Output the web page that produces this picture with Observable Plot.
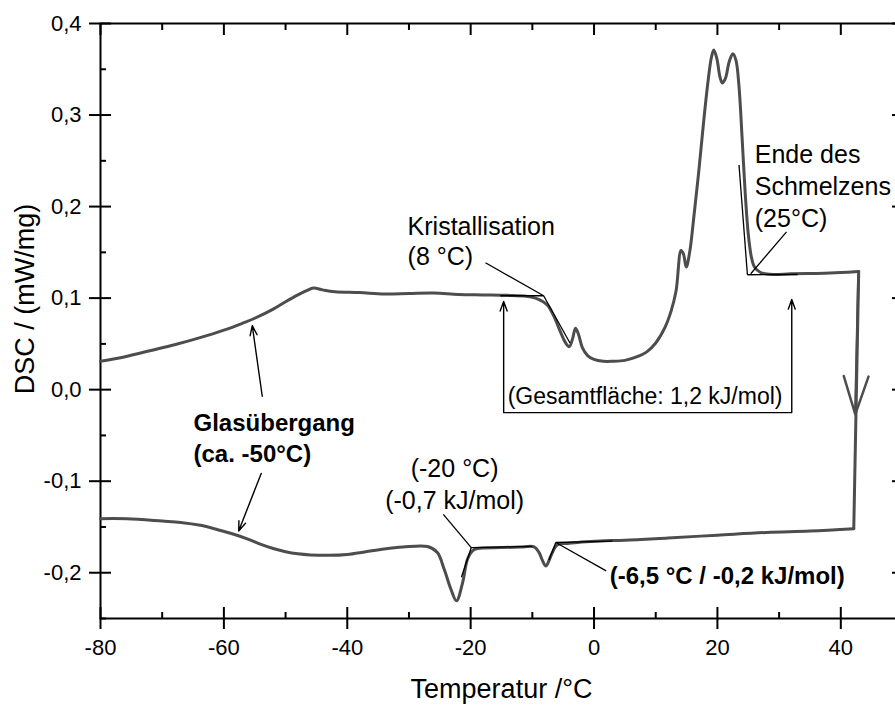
<!DOCTYPE html>
<html><head><meta charset="utf-8">
<script src="https://cdn.jsdelivr.net/npm/d3@7"></script>
<script src="https://cdn.jsdelivr.net/npm/@observablehq/plot@0.6"></script>
<style>
html,body{margin:0;padding:0;background:#fff;overflow:hidden;}
#chart{width:895px;height:706px;overflow:hidden;}
#chart svg{max-width:none !important;}
</style></head><body><div id="chart"></div>
<script>
// Heating scan (upper curve)
const heatT = [-80,-76,-72,-68,-64,-60,-57,-55,-52,-50,-48,-46.5,-45.5,-44,-42,-38,-34,-30,-26,-22,-18,-14,-11,-9.5,-8.5,-7.5,-6.5,-5.5,-4.6,-4.0,-3.5,-3.0,-2.5,-1.9,-1.0,0,1.5,3,5,7,8.5,10,11.5,12.5,13.3,14.1,14.5,14.95,15.5,16.2,17,17.8,18.5,19.0,19.4,19.9,20.4,20.8,21.3,21.9,22.5,23.0,23.5,24.0,24.5,25.0,25.5,26.0,27.0,28.5,32,36,40,42.9];
const heatDSC = [0.031,0.036,0.0425,0.049,0.0565,0.065,0.0725,0.078,0.088,0.096,0.1035,0.1085,0.111,0.109,0.107,0.106,0.1045,0.105,0.1055,0.104,0.1035,0.103,0.102,0.100,0.097,0.092,0.080,0.064,0.051,0.047,0.055,0.067,0.060,0.046,0.037,0.033,0.031,0.031,0.032,0.036,0.041,0.051,0.068,0.086,0.108,0.152,0.148,0.134,0.150,0.190,0.240,0.295,0.338,0.362,0.371,0.362,0.342,0.335,0.340,0.358,0.367,0.360,0.331,0.275,0.215,0.170,0.145,0.134,0.128,0.126,0.1265,0.127,0.128,0.129];
// Cooling scan (lower curve)
const coolT = [42.1,35,28,20,12,5,1,-2,-4.3,-5.8,-6.3,-7.0,-7.8,-8.4,-8.9,-9.7,-12,-15,-18.9,-19.7,-20.5,-21.3,-22.3,-23.2,-24.3,-25.4,-27,-31,-34,-37,-40,-43,-46,-48,-50,-52,-54,-56,-58.4,-61,-63.8,-67,-70,-75.7,-80];
const coolDSC = [-0.152,-0.1545,-0.156,-0.159,-0.162,-0.1645,-0.1653,-0.1665,-0.168,-0.169,-0.172,-0.1817,-0.1926,-0.186,-0.178,-0.1718,-0.172,-0.1725,-0.1736,-0.176,-0.185,-0.2107,-0.2307,-0.218,-0.196,-0.178,-0.1714,-0.172,-0.174,-0.177,-0.180,-0.181,-0.1805,-0.1793,-0.177,-0.1735,-0.169,-0.1635,-0.158,-0.153,-0.1482,-0.145,-0.1435,-0.141,-0.1409];

const xTicks = [-80,-60,-40,-20,0,20,40];
const xMinor = [-70,-50,-30,-10,10,30];
const yTicks = [-0.2,-0.1,0.0,0.1,0.2,0.3,0.4];
const yMinor = [-0.25,-0.15,-0.05,0.05,0.15,0.25,0.35];

// onset construction lines (data units)
const tangX1 = [-17.6,-15.2,-8.17,31.2,23.5,24.86,-14.65,-24.43,-19.9,-19.9,-6.2,-6.2,-6.2];
const tangY1 = [0.1386,0.1026,0.1026,0.1724,0.2455,0.1255,-0.025,-0.1362,-0.1725,-0.1725,-0.167,-0.167,-0.167];
const tangX2 = [-8.17,-8.17,-3.9,25.4,24.86,33,32.05,-19.9,-10,-21.5,1.97,3,-7.3];
const tangY2 = [0.1026,0.1026,0.051,0.1266,0.1255,0.1258,-0.025,-0.1725,-0.1712,-0.205,-0.198,-0.1655,-0.186];

// annotation arrows
const arrX1 = [-14.65,32.05,-53.78,-53.95];
const arrY1 = [-0.025,-0.025,-0.0072,-0.0915];
const arrX2 = [-14.65,32.05,-55.4,-57.6];
const arrY2 = [0.0964,0.0985,0.0699,-0.1544];

// annotation texts
const noteText = ["Kristallisation\n(8 °C)","Ende des\nSchmelzens\n(25°C)","(Gesamtfläche: 1,2 kJ/mol)","(-20 °C)\n(-0,7 kJ/mol)"];
const noteX = [-30.22,26.05,-14.0,-22.6];
const noteY = [0.1357,0.1782,-0.0162,-0.1307];
const noteAnchor = ["start","start","start","middle"];
const noteSize = [25,25,23,25];
const noteLH = [1.2,1.27,1,1.28];
const boldText = ["Glasübergang\n(ca. -50°C)","(-6,5 °C / -0,2 kJ/mol)"];
const boldX = [-64.92,2.54];
const boldY = [-0.0795,-0.2125];

const heat = heatT.map((t,i)=>({t, v: heatDSC[i]}));
const cool = coolT.map((t,i)=>({t, v: coolDSC[i]}));
const drop = [heat[heat.length-1], cool[0]];
const tang = tangX1.map((x,i)=>({x1:x,y1:tangY1[i],x2:tangX2[i],y2:tangY2[i]}));
const arrows = arrX1.map((x,i)=>({x1:x,y1:arrY1[i],x2:arrX2[i],y2:arrY2[i]}));
const notes = noteText.map((s,i)=>({s,x:noteX[i],y:noteY[i],a:noteAnchor[i],f:noteSize[i],lh:noteLH[i]}));
const bolds = boldText.map((s,i)=>({s,x:boldX[i],y:boldY[i]}));
const dirArrow = [{x1: heat[heat.length-1].t - 0.05, y1: 0.125, x2: 42.35, y2: -0.027}];

const FONT = "Liberation Sans, Arial, Helvetica, sans-serif";
const fmtY = d => d.toFixed(1).replace(".", ",");
const INK = "#4d4d4d";

const chart = Plot.plot({
  width: 902, height: 706,
  marginLeft: 100, marginRight: 0, marginTop: 23, marginBottom: 88,
  style: {fontFamily: FONT, fontSize: "22px", background: "white", color: "black", overflow: "visible", maxWidth: "none"},
  x: {domain: [-80, 50], label: null},
  y: {domain: [-0.25, 0.4], label: null},
  marks: [
    Plot.frame({stroke: "black", strokeWidth: 2}),
    // bottom axis: outward + inward major, inward minor
    Plot.axisX(xTicks, {anchor: "bottom", tickSize: 11, tickPadding: 10, strokeWidth: 2, fontSize: 22, tickFormat: d => String(d), label: null}),
    Plot.axisX(xTicks, {anchor: "bottom", tickSize: -11, strokeWidth: 2, fill: "none", label: null}),
    Plot.axisX(xMinor, {anchor: "bottom", tickSize: -6, strokeWidth: 2, fill: "none", label: null}),
    // top axis
    Plot.axisX(xTicks, {anchor: "top", tickSize: -11, strokeWidth: 2, fill: "none", label: null}),
    Plot.axisX(xMinor, {anchor: "top", tickSize: -6, strokeWidth: 2, fill: "none", label: null}),
    // left axis
    Plot.axisY(yTicks, {anchor: "left", tickSize: 11, tickPadding: 8, strokeWidth: 2, fontSize: 22, tickFormat: fmtY, label: null}),
    Plot.axisY(yTicks, {anchor: "left", tickSize: -11, strokeWidth: 2, fill: "none", label: null}),
    Plot.axisY(yMinor, {anchor: "left", tickSize: -6, strokeWidth: 2, fill: "none", label: null}),
    // right axis
    Plot.axisY(yTicks, {anchor: "right", tickSize: -11, strokeWidth: 2, fill: "none", label: null}),
    Plot.axisY(yMinor, {anchor: "right", tickSize: -6, strokeWidth: 2, fill: "none", label: null}),
    // axis titles
    Plot.text(["DSC / (mW/mg)"], {frameAnchor: "left", dx: -75, dy: -22, rotate: -90, fontSize: 27, textAnchor: "middle", lineAnchor: "middle"}),
    Plot.text(["Temperatur /°C"], {frameAnchor: "bottom", dy: 71, fontSize: 27, textAnchor: "middle", lineAnchor: "middle"}),
    // data
    Plot.line(heat, {x: "t", y: "v", stroke: INK, strokeWidth: 3, curve: "catmull-rom"}),
    Plot.line(drop, {x: "t", y: "v", stroke: INK, strokeWidth: 3}),
    Plot.line(cool, {x: "t", y: "v", stroke: INK, strokeWidth: 3, curve: "catmull-rom"}),
    Plot.arrow(dirArrow, {x1: "x1", y1: "y1", x2: "x2", y2: "y2", stroke: INK, strokeWidth: 2.5, headLength: 24, headAngle: 36}),
    // construction lines
    Plot.link(tang, {x1: "x1", y1: "y1", x2: "x2", y2: "y2", stroke: "black", strokeWidth: 1.3}),
    Plot.arrow(arrows, {x1: "x1", y1: "y1", x2: "x2", y2: "y2", stroke: "black", strokeWidth: 1.4, headLength: 11, headAngle: 40}),
    // annotations
    ...notes.map(n => Plot.text([n], {x: "x", y: "y", text: "s", textAnchor: n.a, lineAnchor: "bottom", fontSize: n.f, lineHeight: n.lh, fill: "black"})),
    Plot.text(bolds, {x: "x", y: "y", text: "s", textAnchor: "start", lineAnchor: "bottom", fontSize: 24, fontWeight: "bold", lineHeight: 1.29, fill: "black"})
  ]
});
document.getElementById("chart").appendChild(chart);
</script></body></html>
